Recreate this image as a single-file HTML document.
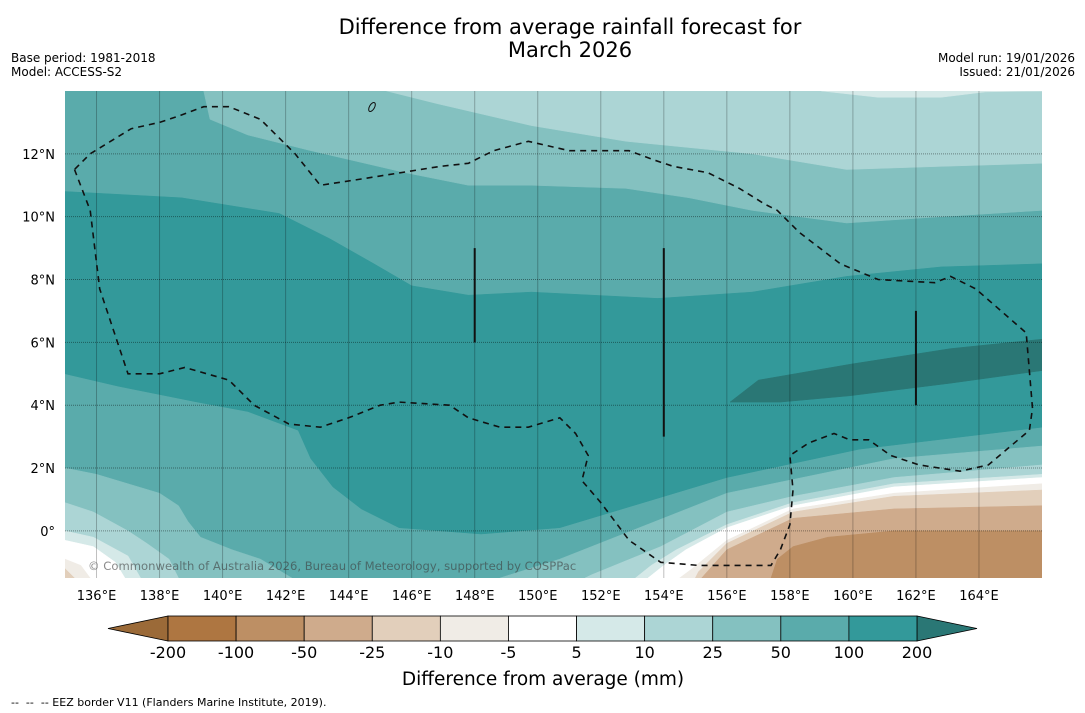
<!DOCTYPE html>
<html><head><meta charset="utf-8"><style>
body{margin:0;background:#fff;font-family:"Liberation Sans","DejaVu Sans",sans-serif;}
svg{display:block}
</style></head><body>
<svg id="chart" width="1085" height="713" xmlns="http://www.w3.org/2000/svg">
<text x="570" y="34" font-size="21" text-anchor="middle" font-family="DejaVu Sans,sans-serif">Difference from average rainfall forecast for</text>
<text x="570" y="57" font-size="21" text-anchor="middle" font-family="DejaVu Sans,sans-serif">March 2026</text>
<text x="11" y="62" font-size="12" font-family="DejaVu Sans,sans-serif">Base period: 1981-2018</text>
<text x="11" y="76" font-size="12" font-family="DejaVu Sans,sans-serif">Model: ACCESS-S2</text>
<text x="1075" y="62" font-size="12" text-anchor="end" font-family="DejaVu Sans,sans-serif">Model run: 19/01/2026</text>
<text x="1075" y="76" font-size="12" text-anchor="end" font-family="DejaVu Sans,sans-serif">Issued: 21/01/2026</text>
<defs><clipPath id="mapclip"><rect x="65" y="91" width="977" height="487"/></clipPath></defs>
<g id="map" clip-path="url(#mapclip)"></g>
<g id="overlay"></g>
<g id="cbar"></g>
<text x="543" y="685" font-size="18.5" text-anchor="middle" font-family="DejaVu Sans,sans-serif">Difference from average (mm)</text>
<text x="11" y="706" font-size="11" style="white-space:pre" font-family="DejaVu Sans,sans-serif">--  --  -- EEZ border V11 (Flanders Marine Institute, 2019).</text>
</svg>
<script>
const lonTicks=[136,138,140,142,144,146,148,150,152,154,156,158,160,162,164];
const latTicks=[0,2,4,6,8,10,12];
const cbLevels=[-200,-100,-50,-25,-10,-5,5,10,25,50,100,200];
const cbColors=["#ae7641","#bd8f64","#cfab8c","#e2cfbb","#f0ece6","#ffffff","#d5e9e8","#acd5d5","#84c1c0","#5aabab","#33999a"];
const cbUnder="#9b6a38", cbOver="#2a7775";
// contour boundaries [lon,lat]
const top25=[[139.4,14],[139.6,13.1],[140.8,12.6],[142.8,12.1],[145.8,11.4],[147.8,11.0],[149.8,11.0],[152.8,10.9],[154.8,10.6],[156.8,10.2],[159.8,9.8],[162.8,10.0],[166,10.2],[166,14]];
const top10=[[145.2,14],[146.8,13.6],[149.8,12.9],[152.8,12.4],[156.8,12.0],[159.8,11.5],[162.8,11.6],[166,11.7],[166,14]];
const top5=[[159,14],[160.8,13.8],[162.8,13.8],[164.2,13.97],[166,14]];
const band100=[[135,10.8],[138.7,10.6],[141.8,10.1],[143.4,9.3],[144.8,8.5],[146.0,7.8],[147.8,7.5],[149.8,7.6],[153.8,7.4],[156.8,7.6],[159.8,8.1],[162.8,8.4],[166,8.5],[166,3.3],[160.2,2.6],[156,1.7],[150.7,0.1],[148.2,-0.1],[145.6,0.1],[144.4,0.7],[143.5,1.4],[142.8,2.3],[142.4,3.2],[140.8,3.8],[139.2,4.1],[136.7,4.6],[135,5.0]];
const band200=[[156.1,4.1],[157.0,4.8],[159.9,5.3],[163.1,5.8],[166,6.1],[166,5.1],[163.1,4.7],[159.9,4.3],[157.7,4.1],[156.3,4.1]];
const br25=[[166,2.7],[161.3,2.3],[156,1.2],[150.7,-0.9],[148.8,-1.5],[166,-1.5]];
const br10=[[166,2.1],[161.3,1.7],[158.1,1.1],[156,0.6],[153.9,-0.5],[151.7,-1.4],[151.5,-1.5],[166,-1.5]];
const br5=[[166,1.8],[161.3,1.5],[158.1,0.9],[156,0.2],[154.4,-0.6],[153.6,-1.1],[153.1,-1.5],[166,-1.5]];
const brW=[[166,1.7],[161.3,1.4],[158.1,0.8],[156,0.1],[154.7,-0.6],[154.0,-1.1],[153.5,-1.5],[166,-1.5]];
const brN10=[[166,1.5],[161.3,1.2],[158.1,0.7],[156,-0.3],[154.9,-1.2],[154.5,-1.5],[166,-1.5]];
const brN25=[[166,1.3],[161.3,1.1],[158.1,0.6],[156,-0.4],[155.1,-1.3],[155.0,-1.5],[166,-1.5]];
const brN50=[[166,0.8],[161.3,0.7],[158.1,0.4],[156,-0.6],[155.2,-1.5],[166,-1.5]];
const brN100=[[166,0.0],[161.3,0.0],[159.2,-0.2],[158.1,-0.5],[157.6,-0.9],[157.4,-1.5],[166,-1.5]];
const bl25=[[135,2.0],[136,1.8],[138,1.2],[138.6,0.8],[138.9,0.3],[139.3,-0.2],[140.3,-0.6],[141.2,-0.9],[142.2,-1.5],[135,-1.5]];
const bl10=[[135,0.9],[135.9,0.6],[137,0.0],[137.6,-0.4],[138.3,-0.9],[138.6,-1.5],[135,-1.5]];
const bl5=[[135,0.0],[135.9,-0.2],[137,-0.8],[137.4,-1.5],[135,-1.5]];
const blW=[[135,-0.3],[135.9,-0.5],[136.6,-1.0],[136.9,-1.5],[135,-1.5]];
const blN10=[[135,-0.9],[135.5,-1.1],[135.8,-1.5],[135,-1.5]];
const blN25=[[135,-1.2],[135.3,-1.5],[135,-1.5]];
const eez=[[135.3,11.5],[135.8,10.2],[136.1,7.7],[137.0,5.0],[138.0,5.0],[138.8,5.2],[140.2,4.8],[141.0,4.0],[142.1,3.4],[143.1,3.3],[144.0,3.6],[145.0,4.0],[145.6,4.1],[147.2,4.0],[147.8,3.6],[148.8,3.3],[149.7,3.3],[150.7,3.6],[151.2,3.1],[151.6,2.4],[151.4,1.6],[152.0,0.9],[152.9,-0.3],[153.9,-1.0],[155.1,-1.1],[157.4,-1.1],[157.7,-0.6],[158.0,0.2],[158.1,1.3],[158.0,2.4],[158.6,2.8],[159.4,3.1],[159.9,2.9],[160.5,2.9],[161.2,2.4],[162.1,2.1],[163.4,1.9],[164.3,2.1],[165.6,3.2],[165.7,3.9],[165.5,6.3],[163.9,7.7],[163.1,8.1],[162.6,7.9],[160.8,8.0],[159.6,8.5],[158.3,9.5],[157.6,10.2],[157.2,10.4],[156.4,10.9],[155.4,11.4],[154.3,11.6],[153.7,11.8],[152.9,12.1],[151.6,12.1],[151.0,12.1],[149.7,12.4],[148.6,12.1],[147.8,11.7],[146.9,11.6],[144.4,11.2],[143.1,11.0],[142.3,12.0],[141.2,13.1],[140.2,13.5],[139.4,13.5],[138.6,13.2],[138.0,13.0],[137.1,12.8],[135.8,12.0],[135.3,11.5]];
const meridianBars=[[148,9,6],[154,9,3],[162,7,4]];

const X0=65,X1=1042,Y0=91,Y1=578,LON0=135,LON1=166,LAT0=14,LAT1=-1.5;
const x=lon=>X0+(lon-LON0)/(LON1-LON0)*(X1-X0);
const y=lat=>Y0+(lat-LAT0)/(LAT1-LAT0)*(Y1-Y0);
const NS="http://www.w3.org/2000/svg";
const map=document.getElementById('map'),ov=document.getElementById('overlay'),cb=document.getElementById('cbar');
function mk(t,a,p){const e=document.createElementNS(NS,t);for(const k in a)e.setAttribute(k,a[k]);p.appendChild(e);return e;}
function pts(arr){return arr.map(p=>x(p[0]).toFixed(1)+","+y(p[1]).toFixed(1)).join(" ");}
const base=mk('rect',{x:X0,y:Y0,width:X1-X0,height:Y1-Y0,fill:"#5aabab"},map);


const layers=[[top25,"#84c1c0","band-25-50-north"],[top10,"#acd5d5","band-10-25-north"],[top5,"#d5e9e8","band-5-10-north"],[band100,"#33999a","band-100-200"],[band200,"#2a7775","band-over-200"],[br25,"#84c1c0","band-25-50-south"],[br10,"#acd5d5","band-10-25-south"],[br5,"#d5e9e8","band-5-10-south"],[brW,"#ffffff","band-neutral-south"],[brN10,"#f0ece6","band-minus10-south"],[brN25,"#e2cfbb","band-minus25-south"],[brN50,"#cfab8c","band-minus50-south"],[brN100,"#bd8f64","band-minus100-south"],[bl25,"#84c1c0","band-25-50-sw"],[bl10,"#acd5d5","band-10-25-sw"],[bl5,"#d5e9e8","band-5-10-sw"],[blW,"#ffffff","band-neutral-sw"],[blN10,"#f0ece6","band-minus10-sw"],[blN25,"#e2cfbb","band-minus25-sw"]];
layers.forEach(L=>{const p=mk('polygon',{points:pts(L[0]),fill:L[1],stroke:L[1],"stroke-width":0.5},map);

});
lonTicks.forEach(l=>{const g=mk('line',{x1:x(l),x2:x(l),y1:Y0,y2:Y1,stroke:"rgba(0,0,0,0.25)","stroke-width":1},map);


const t=mk('text',{x:x(l),y:600,"font-size":13,"text-anchor":"middle","font-family":"DejaVu Sans,sans-serif"},ov);t.textContent=l+"°E";

});
latTicks.forEach(l=>{const g=mk('line',{x1:X0,x2:X1,y1:y(l),y2:y(l),stroke:"rgba(0,0,0,0.4)","stroke-width":1,"stroke-dasharray":"1,1"},map);


const t=mk('text',{x:55,y:y(l)+5,"font-size":13,"text-anchor":"end","font-family":"DejaVu Sans,sans-serif"},ov);t.textContent=l===0?"0°":l+"°N";

});
meridianBars.forEach(b=>{const l=mk('line',{x1:x(b[0]),x2:x(b[0]),y1:y(b[1]),y2:y(b[2]),stroke:"#111","stroke-width":2},map);

});
const ez=mk('polyline',{points:pts(eez),fill:"none",stroke:"#111","stroke-width":1.6,"stroke-dasharray":"6,5"},map);


const guam=mk('ellipse',{cx:372,cy:107,rx:2.5,ry:5,fill:"none",stroke:"#111","stroke-width":1,transform:"rotate(30 372 107)"},map);


const cr=mk('text',{x:88,y:570,"font-size":11.6,fill:"rgba(60,60,60,0.6)","font-family":"DejaVu Sans,sans-serif"},map);cr.textContent="© Commonwealth of Australia 2026, Bureau of Meteorology, supported by COSPPac";


// colorbar
const CB0=168,CB1=917,CBY=616,CBH=25,n=cbColors.length,w=(CB1-CB0)/n;
const lt=mk('polygon',{points:`108,${CBY+CBH/2} ${CB0},${CBY} ${CB0},${CBY+CBH}`,fill:cbUnder,stroke:"#000","stroke-width":0.8},cb);


const rt=mk('polygon',{points:`977,${CBY+CBH/2} ${CB1},${CBY} ${CB1},${CBY+CBH}`,fill:cbOver,stroke:"#000","stroke-width":0.8},cb);


cbColors.forEach((c,i)=>{const r=mk('rect',{x:CB0+i*w,y:CBY,width:w,height:CBH,fill:c,stroke:"#000","stroke-width":0.8},cb);

});
cbLevels.forEach((v,i)=>{const t=mk('text',{x:CB0+i*w,y:658,"font-size":16,"text-anchor":"middle","font-family":"DejaVu Sans,sans-serif"},cb);t.textContent=v;

});
</script>
</body></html>
